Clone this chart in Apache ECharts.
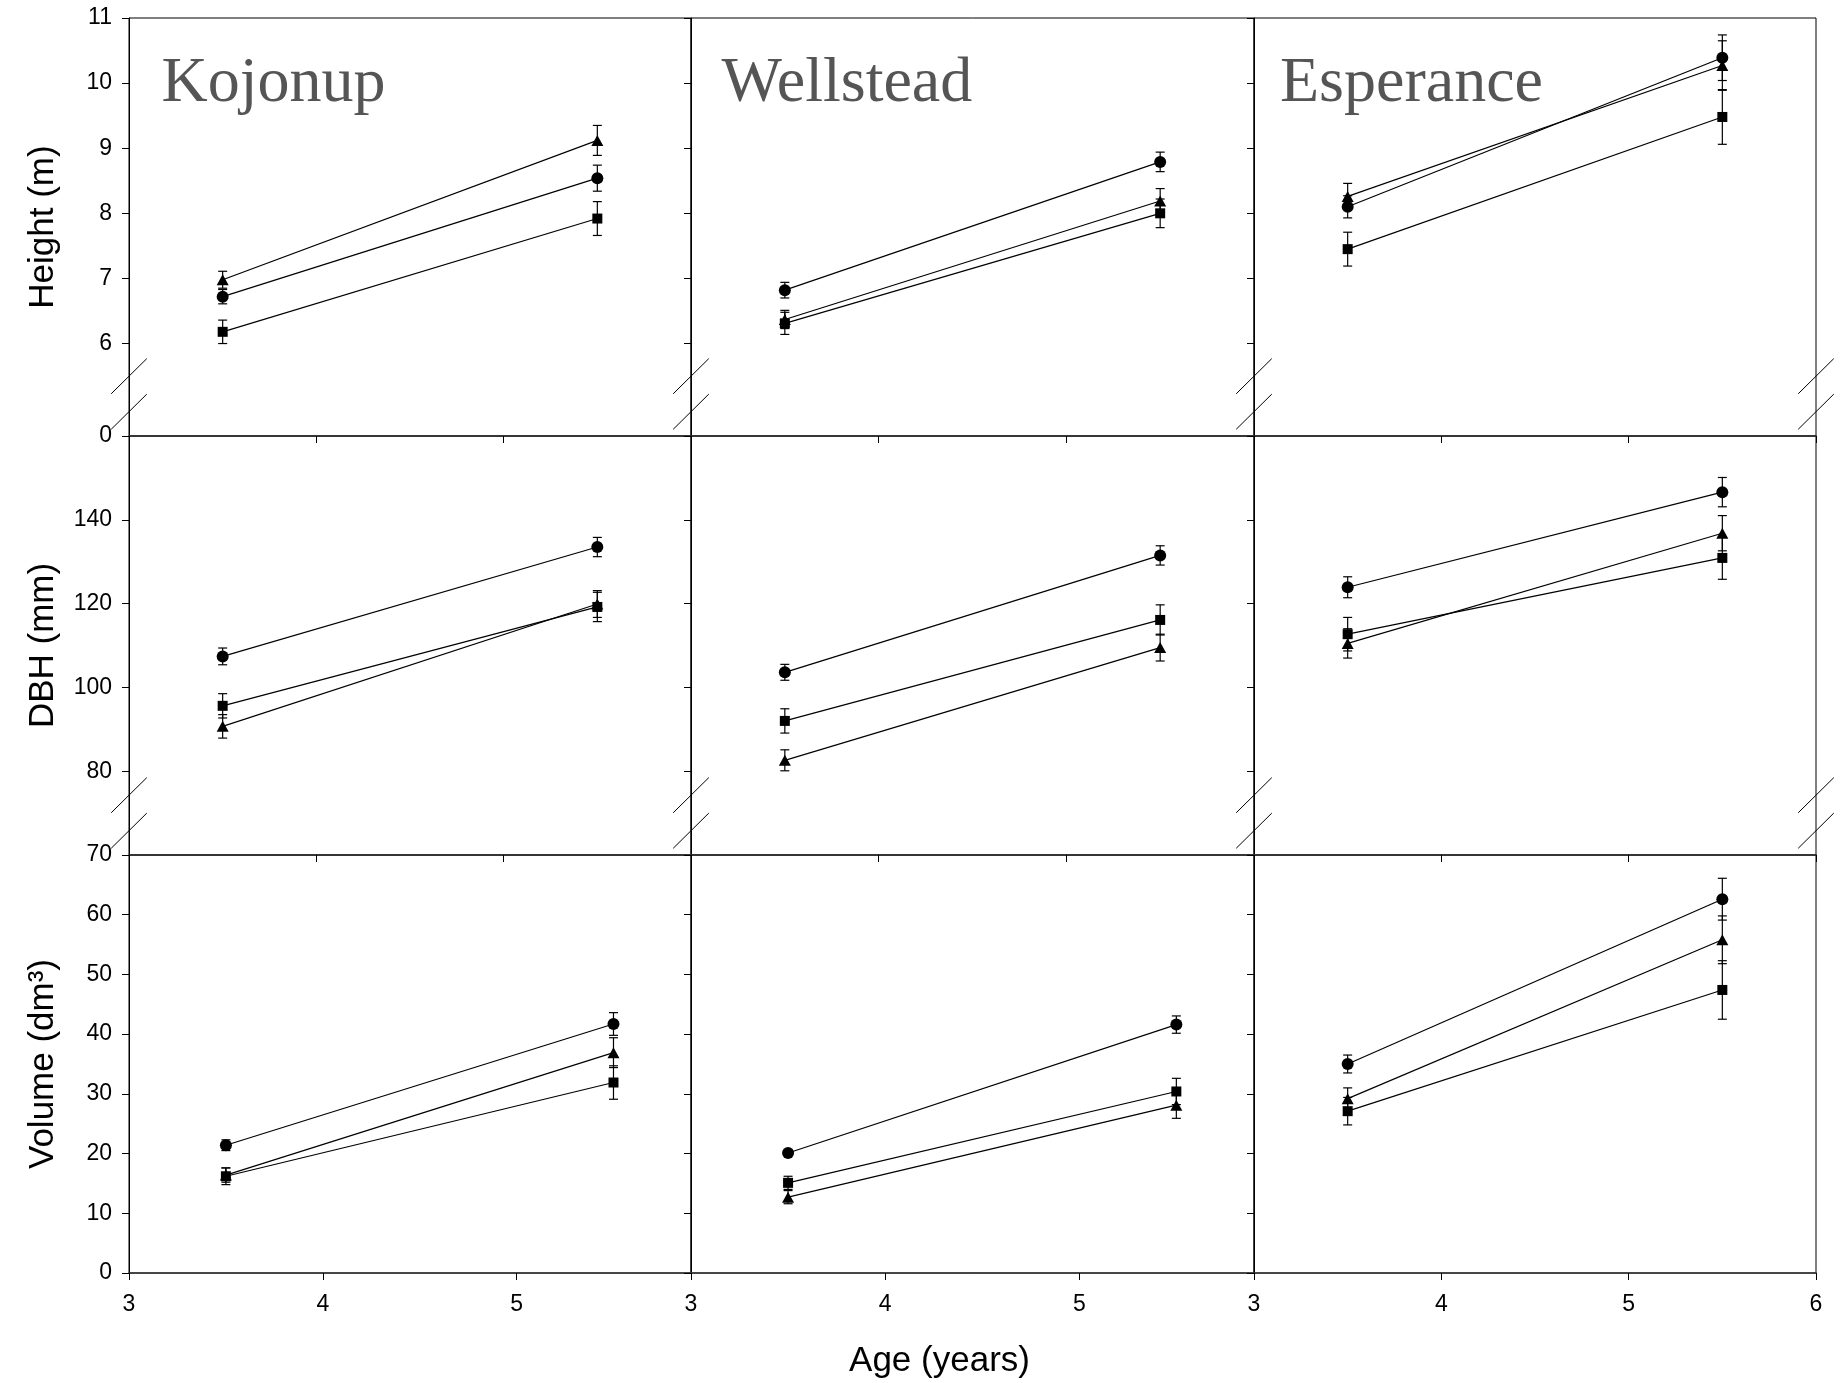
<!DOCTYPE html>
<html>
<head>
<meta charset="utf-8">
<script src="https://cdn.jsdelivr.net/npm/echarts@6/dist/echarts.min.js"></script>
<style>
html,body{margin:0;padding:0;background:#fff;}
#c{width:1845px;height:1383px;}
</style>
</head>
<body>
<div id="c"></div>
<script>
// ---------------- DATA ----------------
const sites = ['Kojonup', 'Wellstead', 'Esperance'];
const ages = [3.5, 5.5];
const seriesNames = ['Circle', 'Triangle', 'Square'];

// Each array: one [age 3.5, age 5.5] pair per site (Kojonup, Wellstead, Esperance)
const heightCircle     = [[6.72, 8.54], [6.82, 8.79], [8.10, 10.39]];
const heightCircleSE   = [[0.11, 0.20], [0.12, 0.15], [0.17, 0.35]];
const heightTriangle   = [[6.98, 9.12], [6.37, 8.19], [8.26, 10.27]];
const heightTriangleSE = [[0.13, 0.23], [0.14, 0.19], [0.20, 0.38]];
const heightSquare     = [[6.18, 7.92], [6.31, 8.00], [7.45, 9.48]];
const heightSquareSE   = [[0.18, 0.26], [0.17, 0.22], [0.26, 0.42]];

const dbhCircle        = [[107.4, 133.5], [103.6, 131.5], [123.9, 146.6]];
const dbhCircleSE      = [[2.0, 2.3], [1.9, 2.3], [2.5, 3.5]];
const dbhTriangle      = [[90.7, 119.9], [82.6, 109.5], [110.5, 136.8]];
const dbhTriangleSE    = [[2.8, 3.2], [2.5, 3.2], [3.5, 4.2]];
const dbhSquare        = [[95.6, 119.2], [92.0, 116.1], [112.7, 130.9]];
const dbhSquareSE      = [[2.9, 3.5], [2.9, 3.6], [4.0, 5.1]];

const volumeCircle     = [[21.4, 41.7], [20.1, 41.6], [35.0, 62.6]];
const volumeCircleSE   = [[0.9, 1.9], [0.5, 1.45], [1.5, 3.5]];
const volumeTriangle   = [[16.4, 36.9], [12.7, 28.1], [29.2, 55.8]];
const volumeTriangleSE = [[1.2, 2.5], [1.1, 2.2], [1.8, 4.0]];
const volumeSquare     = [[16.2, 31.9], [15.1, 30.4], [27.1, 47.4]];
const volumeSquareSE   = [[1.4, 2.8], [1.1, 2.2], [2.3, 4.9]];

// Axis ranges and tick labels
const heightRange = [4.58, 11];       // broken axis: bottom shown as "0"
const heightTicks = [6, 7, 8, 9, 10, 11];
const heightBreakLabel = '0';
const dbhRange = [60, 160];
const dbhTicks = [80, 100, 120, 140];
const volumeRange = [0, 70];
const volumeTicks = [0, 10, 20, 30, 40, 50, 60, 70];
const ageRange = [3, 6];
const ageTicks = [3, 4, 5, 6];
const ageRangeBottom = [[3, 5.9], [3, 5.9], [3, 6]];
const ageLabelsBottom = [[3, 4, 5], [3, 4, 5], [3, 4, 5, 6]];

// ---------------- LAYOUT / STYLE ----------------
const colLeft = [129, 691, 1254];
const colW = [562, 563, 562];
const rowTop = [18, 436, 855];
const rowH = [418, 419, 418];
const FONT = '"Liberation Sans", Arial, Helvetica, sans-serif';
const SERIF = '"Liberation Serif", "Times New Roman", Times, serif';
const symbols = ['circle', 'triangle', 'rect'];
const symbolSizes = [12, [12, 11], 10];

const variables = [
  { name: 'Height (m)', range: heightRange,
    tickVals: [heightRange[0]].concat(heightTicks),
    labelVals: [heightRange[0]].concat(heightTicks),
    fmt: v => Math.abs(v - heightRange[0]) < 1e-9 ? heightBreakLabel : String(v),
    vals: [heightCircle, heightTriangle, heightSquare],
    se: [heightCircleSE, heightTriangleSE, heightSquareSE] },
  { name: 'DBH (mm)', range: dbhRange,
    tickVals: dbhTicks, labelVals: dbhTicks, fmt: v => String(v),
    vals: [dbhCircle, dbhTriangle, dbhSquare],
    se: [dbhCircleSE, dbhTriangleSE, dbhSquareSE] },
  { name: 'Volume (dm³)', range: volumeRange,
    tickVals: volumeTicks, labelVals: volumeTicks, fmt: v => String(v),
    vals: [volumeCircle, volumeTriangle, volumeSquare],
    se: [volumeCircleSE, volumeTriangleSE, volumeSquareSE] }
];

function renderErr(params, api) {
  const x = api.value(0), y = api.value(1), e = api.value(2);
  const hi = api.coord([x, y + e]);
  const lo = api.coord([x, y - e]);
  const w = 4.5;
  const st = { stroke: '#000', lineWidth: 1.2 };
  return {
    type: 'group',
    children: [
      { type: 'line', shape: { x1: hi[0], y1: hi[1], x2: lo[0], y2: lo[1] }, style: st },
      { type: 'line', shape: { x1: hi[0] - w, y1: hi[1], x2: hi[0] + w, y2: hi[1] }, style: st },
      { type: 'line', shape: { x1: lo[0] - w, y1: lo[1], x2: lo[0] + w, y2: lo[1] }, style: st }
    ]
  };
}

const grids = [], xAxes = [], yAxes = [], series = [];

variables.forEach((vd, r) => {
  sites.forEach((site, c) => {
    const i = r * 3 + c;
    grids.push({
      left: colLeft[c], top: rowTop[r], width: colW[c], height: rowH[r],
      show: true, borderColor: '#000', borderWidth: 1, backgroundColor: 'transparent'
    });
    const bottomRow = r === 2;
    const xr = bottomRow ? ageRangeBottom[c] : ageRange;
    xAxes.push({
      type: 'value', gridIndex: i, min: xr[0], max: xr[1],
      axisLine: { show: true, onZero: false, lineStyle: { color: '#333', width: 1.6 } },
      axisTick: { show: true, inside: false, length: 7, customValues: bottomRow ? ageLabelsBottom[c] : ageTicks,
                  lineStyle: { color: '#000', width: 1 } },
      axisLabel: { show: bottomRow, customValues: bottomRow ? ageLabelsBottom[c] : ageTicks,
                   margin: 20, fontSize: 23, fontFamily: FONT, color: '#000',
                   showMinLabel: true, showMaxLabel: true },
      splitLine: { show: false }
    });
    const yax = {
      type: 'value', gridIndex: i, min: vd.range[0], max: vd.range[1],
      axisLine: { show: true, onZero: false, lineStyle: { color: '#000', width: 1 } },
      axisTick: { show: true, inside: false, length: 7, customValues: vd.tickVals,
                  lineStyle: { color: '#000', width: 1 } },
      axisLabel: { show: c === 0, customValues: vd.labelVals, formatter: vd.fmt,
                   margin: 17, fontSize: 23, fontFamily: FONT, color: '#000',
                   showMinLabel: true, showMaxLabel: true },
      splitLine: { show: false }
    };
    if (c === 0) {
      yax.name = vd.name;
      yax.nameLocation = 'middle';
      yax.nameGap = 68;
      yax.nameTextStyle = { fontSize: 35, fontFamily: FONT, color: '#000' };
    }
    yAxes.push(yax);

    const errData = [];
    for (let s = 0; s < 3; s++) {
      const v = vd.vals[s][c], e = vd.se[s][c];
      series.push({
        name: seriesNames[s], type: 'line', xAxisIndex: i, yAxisIndex: i,
        data: ages.map((a, k) => [a, v[k]]),
        symbol: symbols[s], symbolSize: symbolSizes[s], showSymbol: true,
        lineStyle: { color: '#000', width: 1.2 },
        itemStyle: { color: '#000' },
        animation: false, z: 3, silent: true
      });
      ages.forEach((a, k) => errData.push([a, v[k], e[k]]));
    }
    series.push({
      type: 'custom', xAxisIndex: i, yAxisIndex: i,
      data: errData, encode: { x: 0, y: 1 },
      renderItem: renderErr, animation: false, z: 2, silent: true
    });
  });
});

// ---------------- DECORATION (titles, break marks) ----------------
const graphics = [];
const siteTitleX = [161.5, 721.5, 1280];
sites.forEach((s, c) => {
  graphics.push({
    type: 'text', x: siteTitleX[c], y: 84.5, silent: true,
    style: { text: s, font: '64px ' + SERIF, fill: '#555555', align: 'left', verticalAlign: 'middle' }
  });
});
graphics.push({
  type: 'text', x: 939.5, y: 1361, silent: true,
  style: { text: 'Age (years)', font: '35px ' + FONT, fill: '#000', align: 'center', verticalAlign: 'middle' }
});
const breakXs = [colLeft[0], colLeft[1], colLeft[2], colLeft[2] + colW[2]];
[0, 1].forEach(r => {
  const rb = rowTop[r] + rowH[r];
  breakXs.forEach(x => {
    [59.8, 24.3].forEach(off => {
      const cy = rb - off;
      graphics.push({
        type: 'line', silent: true,
        shape: { x1: x - 17.8, y1: cy + 17.6, x2: x + 17.8, y2: cy - 17.6 },
        style: { stroke: '#000', lineWidth: 1 }
      });
    });
  });
});

const chart = echarts.init(document.getElementById('c'), null, { renderer: 'canvas' });
chart.setOption({
  backgroundColor: '#fff',
  animation: false,
  grid: grids,
  xAxis: xAxes,
  yAxis: yAxes,
  series: series,
  graphic: graphics
});
</script>
</body>
</html>
